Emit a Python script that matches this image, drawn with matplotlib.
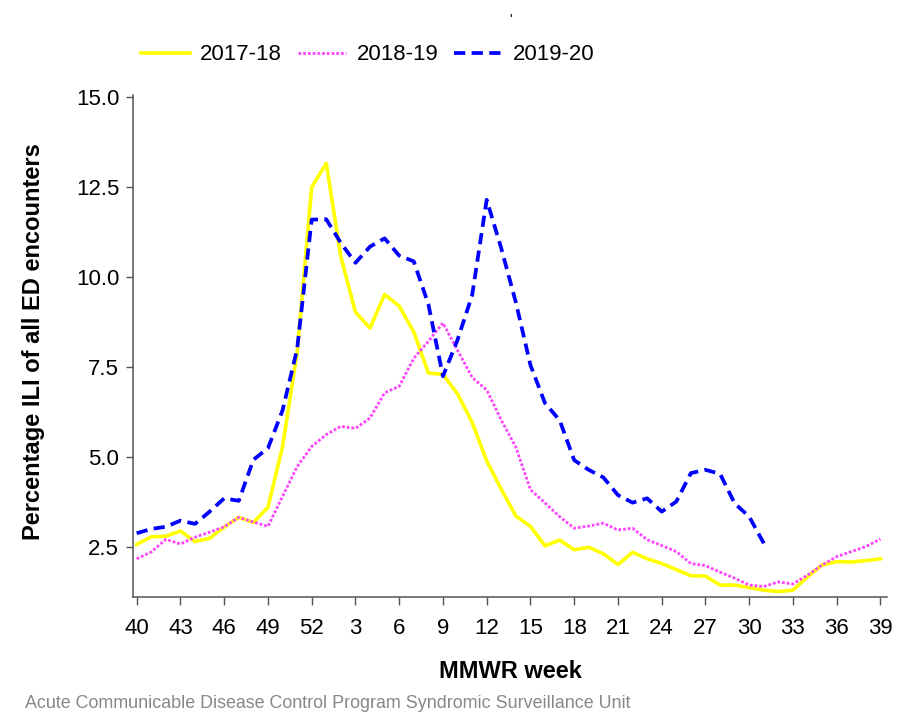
import matplotlib
matplotlib.use("Agg")
import matplotlib.pyplot as plt

plt.rcParams["font.family"] = ["Liberation Sans", "DejaVu Sans"]

# MMWR weeks 40..52 then 1..39
weeks = list(range(40, 53)) + list(range(1, 40))

season_1718 = [
    2.58, 2.79, 2.81, 2.95, 2.66, 2.75, 3.06, 3.33, 3.19, 3.61,
    5.29, 7.90, 12.50, 13.16, 10.57, 9.03, 8.59, 9.52, 9.20, 8.48,
    7.34, 7.30, 6.76, 5.97, 4.90, 4.11, 3.37, 3.08, 2.54, 2.70,
    2.43, 2.50, 2.32, 2.02, 2.36, 2.18, 2.05, 1.88, 1.71, 1.70,
    1.45, 1.45, 1.38, 1.31, 1.27, 1.31, 1.68, 2.01, 2.10, 2.09,
    2.13, 2.18,
]
season_1819 = [
    2.18, 2.37, 2.72, 2.59, 2.78, 2.92, 3.07, 3.33, 3.20, 3.08,
    3.91, 4.74, 5.30, 5.63, 5.86, 5.80, 6.09, 6.79, 6.97, 7.75,
    8.22, 8.73, 7.97, 7.22, 6.87, 6.03, 5.28, 4.10, 3.73, 3.35,
    3.03, 3.09, 3.17, 2.98, 3.03, 2.71, 2.55, 2.38, 2.05, 1.99,
    1.81, 1.64, 1.45, 1.41, 1.54, 1.48, 1.73, 2.01, 2.24, 2.38,
    2.52, 2.73,
]
season_1920 = [
    2.89, 3.01, 3.07, 3.24, 3.15, 3.49, 3.86, 3.79, 4.93, 5.25,
    6.30, 8.00, 11.60, 11.61, 10.95, 10.40, 10.85, 11.08, 10.60, 10.44,
    9.25, 7.25, 8.26, 9.50, 12.15, 10.80, 9.30, 7.56, 6.50, 6.03,
    4.92, 4.65, 4.44, 3.95, 3.74, 3.86, 3.49, 3.77, 4.56, 4.65,
    4.54, 3.72, 3.35, 2.61,
]

labels = ["2017-18", "2018-19", "2019-20"]
y_ticks = [2.5, 5.0, 7.5, 10.0, 12.5, 15.0]

fig = plt.figure(figsize=(8.97, 7.14), dpi=100)
ax = fig.add_axes([0.1483, 0.1639, 0.8406, 0.7030])

x_all = list(range(len(weeks)))
ax.plot(x_all, season_1718, color="#FFFF00", lw=2.6, label=labels[0])
ax.plot(x_all, season_1819, color="#FF44FF", lw=2.0,
        linestyle=(0, (1, 0.7)), label=labels[1])
ax.plot(x_all[:len(season_1920)], season_1920, color="#0000FF", lw=2.7,
        linestyle=(0, (3, 1.7)), label=labels[2])

ax.set_xlim(-0.25, 51.45)
ax.set_ylim(1.12, 15.06)
ax.set_xticks(x_all[::3])
ax.set_xticklabels([str(w) for w in weeks[::3]])
ax.set_yticks(y_ticks)
ax.set_yticklabels([f"{v:.1f}" for v in y_ticks])

for side in ["top", "right"]:
    ax.spines[side].set_visible(False)
for side in ["left", "bottom"]:
    ax.spines[side].set_color("#555555")
    ax.spines[side].set_linewidth(1.1)
ax.tick_params(axis="y", length=5, width=1.0, color="#555555",
               labelsize=16, pad=5)
ax.tick_params(axis="x", length=6, width=1.0, color="#555555",
               labelsize=16, pad=9)

ax.set_ylabel("Percentage ILI of all ED encounters", fontsize=17,
              fontweight="bold")
ax.yaxis.set_label_coords(-0.117, 0.509)
ax.set_xlabel("MMWR week", fontsize=17, fontweight="bold", labelpad=15)

fig.legend(loc="center", bbox_to_anchor=(0.41, 0.923), ncol=3,
           frameon=False, fontsize=16, handlelength=2.2,
           handletextpad=0.45, columnspacing=0.7)

fig.text(0.569, 0.972, "'", fontsize=10, ha="center", va="center")
fig.text(0.028, 0.003, "Acute Communicable Disease Control Program "
         "Syndromic Surveillance Unit", fontsize=12.9, color="#888888",
         ha="left", va="bottom")

fig.savefig("out.png", dpi=100)
